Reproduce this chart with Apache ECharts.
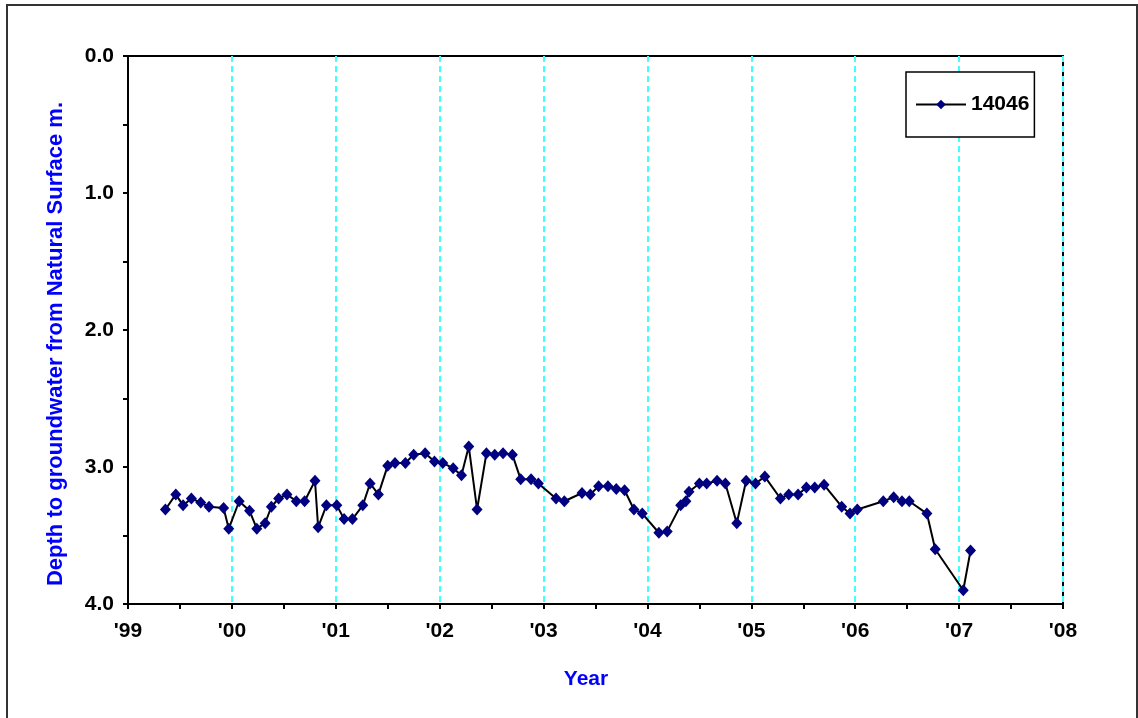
<!DOCTYPE html>
<html>
<head>
<meta charset="utf-8">
<script src="https://cdn.jsdelivr.net/npm/echarts@6/dist/echarts.min.js"></script>
<style>
  html, body { margin: 0; padding: 0; background: #fff; }
  #chart { width: 1138px; height: 718px; }
</style>
</head>
<body>
<div id="chart"></div>
<script>
// decimal year of each reading
const years = [
    1999.36, 1999.46, 1999.53, 1999.61, 1999.70, 1999.78, 1999.92, 1999.97,
    2000.07, 2000.17, 2000.24, 2000.32, 2000.38, 2000.45, 2000.53, 2000.62, 2000.70, 2000.80, 2000.83, 2000.91,
    2001.01, 2001.08, 2001.16, 2001.26, 2001.33, 2001.41, 2001.50, 2001.57, 2001.67, 2001.75, 2001.86, 2001.95,
    2002.03, 2002.13, 2002.21, 2002.28, 2002.36, 2002.45, 2002.53, 2002.61, 2002.70, 2002.78, 2002.88, 2002.95,
    2003.12, 2003.20, 2003.37, 2003.45, 2003.53, 2003.62, 2003.70, 2003.78, 2003.87, 2003.95,
    2004.11, 2004.19, 2004.32, 2004.37, 2004.40, 2004.50, 2004.57, 2004.67, 2004.75, 2004.86, 2004.95,
    2005.04, 2005.13, 2005.28, 2005.36, 2005.45, 2005.53, 2005.61, 2005.70, 2005.87, 2005.95,
    2006.02, 2006.27, 2006.37, 2006.45, 2006.52, 2006.69, 2006.77,
    2007.04, 2007.11
]

// depth to groundwater (m)
const depths = [
    3.31, 3.20, 3.28, 3.23, 3.26, 3.29, 3.30, 3.45,
    3.25, 3.32, 3.45, 3.41, 3.29, 3.23, 3.20, 3.25, 3.25, 3.10, 3.44, 3.28,
    3.28, 3.38, 3.38, 3.28, 3.12, 3.20, 2.99, 2.97, 2.97, 2.91, 2.90, 2.96,
    2.97, 3.01, 3.06, 2.85, 3.31, 2.90, 2.91, 2.90, 2.91, 3.09, 3.09, 3.12,
    3.23, 3.25, 3.19, 3.20, 3.14, 3.14, 3.16, 3.17, 3.31, 3.34,
    3.48, 3.47, 3.28, 3.25, 3.18, 3.12, 3.12, 3.10, 3.12, 3.41, 3.10,
    3.12, 3.07, 3.23, 3.20, 3.20, 3.15, 3.15, 3.13, 3.29, 3.34,
    3.31, 3.25, 3.22, 3.25, 3.25, 3.34, 3.60,
    3.90, 3.61
]

const seriesName = '14046'
const yTitle = 'Depth to groundwater from Natural Surface m.'
const xTitle = 'Year'

const points = years.map((y, i) => [y, depths[i]])

const myChart = echarts.init(document.getElementById('chart'))

const labelFont = {
    color: '#000',
    fontFamily: 'Liberation Sans, Arial, sans-serif',
    fontWeight: 'bold',
    fontSize: 21
}

const option = {
    animation: false,
    backgroundColor: '#fff',
    grid: {
        left: 128,
        right: 75,
        top: 56,
        bottom: 114,
        show: true,
        borderColor: '#000',
        borderWidth: 2
    },
    legend: {
        left: 906,
        top: 72,
        orient: 'vertical',
        data: [seriesName],
        backgroundColor: '#fff',
        borderColor: '#000',
        borderWidth: 1.5,
        padding: [22, 5, 22, 9],
        itemWidth: 50,
        itemHeight: 12,
        itemGap: 0,
        textStyle: labelFont
    },
    xAxis: {
        type: 'value',
        min: 1999,
        max: 2008,
        interval: 1,
        axisLine: { onZero: false, lineStyle: { color: '#000', width: 2 } },
        axisTick: { show: true, length: 5, lineStyle: { color: '#000', width: 2 } },
        minorTick: { show: true, splitNumber: 2, length: 5, lineStyle: { color: '#000', width: 2 } },
        axisLabel: Object.assign({
            margin: 17,
            formatter: v => "'" + String(v).slice(2)
        }, labelFont),
        splitLine: {
            show: true,
            lineStyle: { color: '#4ff', width: 2, type: [6, 4] }
        }
    },
    yAxis: {
        type: 'value',
        inverse: true,
        min: 0,
        max: 4,
        interval: 1,
        axisLine: { show: true, onZero: false, lineStyle: { color: '#000', width: 2 } },
        axisTick: { show: true, length: 5, lineStyle: { color: '#000', width: 2 } },
        minorTick: { show: true, splitNumber: 2, length: 5, lineStyle: { color: '#000', width: 2 } },
        axisLabel: Object.assign({
            margin: 14,
            formatter: v => v.toFixed(1)
        }, labelFont),
        splitLine: { show: false }
    },
    graphic: [
        {
            type: 'rect',
            z: -10,
            shape: { x: 7, y: 5, width: 1130, height: 730 },
            style: { fill: 'none', stroke: '#333', lineWidth: 2 }
        },
        {
            type: 'text',
            x: 56,
            y: 344,
            rotation: Math.PI / 2,
            style: {
                text: yTitle,
                fill: '#0000ff',
                font: 'bold 22px "Liberation Sans", Arial, sans-serif',
                textAlign: 'center',
                textVerticalAlign: 'middle'
            }
        },
        {
            type: 'text',
            x: 586,
            y: 679,
            style: {
                text: xTitle,
                fill: '#0000ff',
                font: 'bold 21px "Liberation Sans", Arial, sans-serif',
                textAlign: 'center',
                textVerticalAlign: 'middle'
            }
        }
    ],
    series: [
        {
            name: seriesName,
            type: 'line',
            data: points,
            symbol: 'diamond',
            symbolSize: [11, 12],
            showAllSymbol: true,
            itemStyle: { color: '#000080', borderWidth: 0 },
            lineStyle: { color: '#000', width: 2 }
        }
    ]
}

myChart.setOption(option)
</script>
</body>
</html>
